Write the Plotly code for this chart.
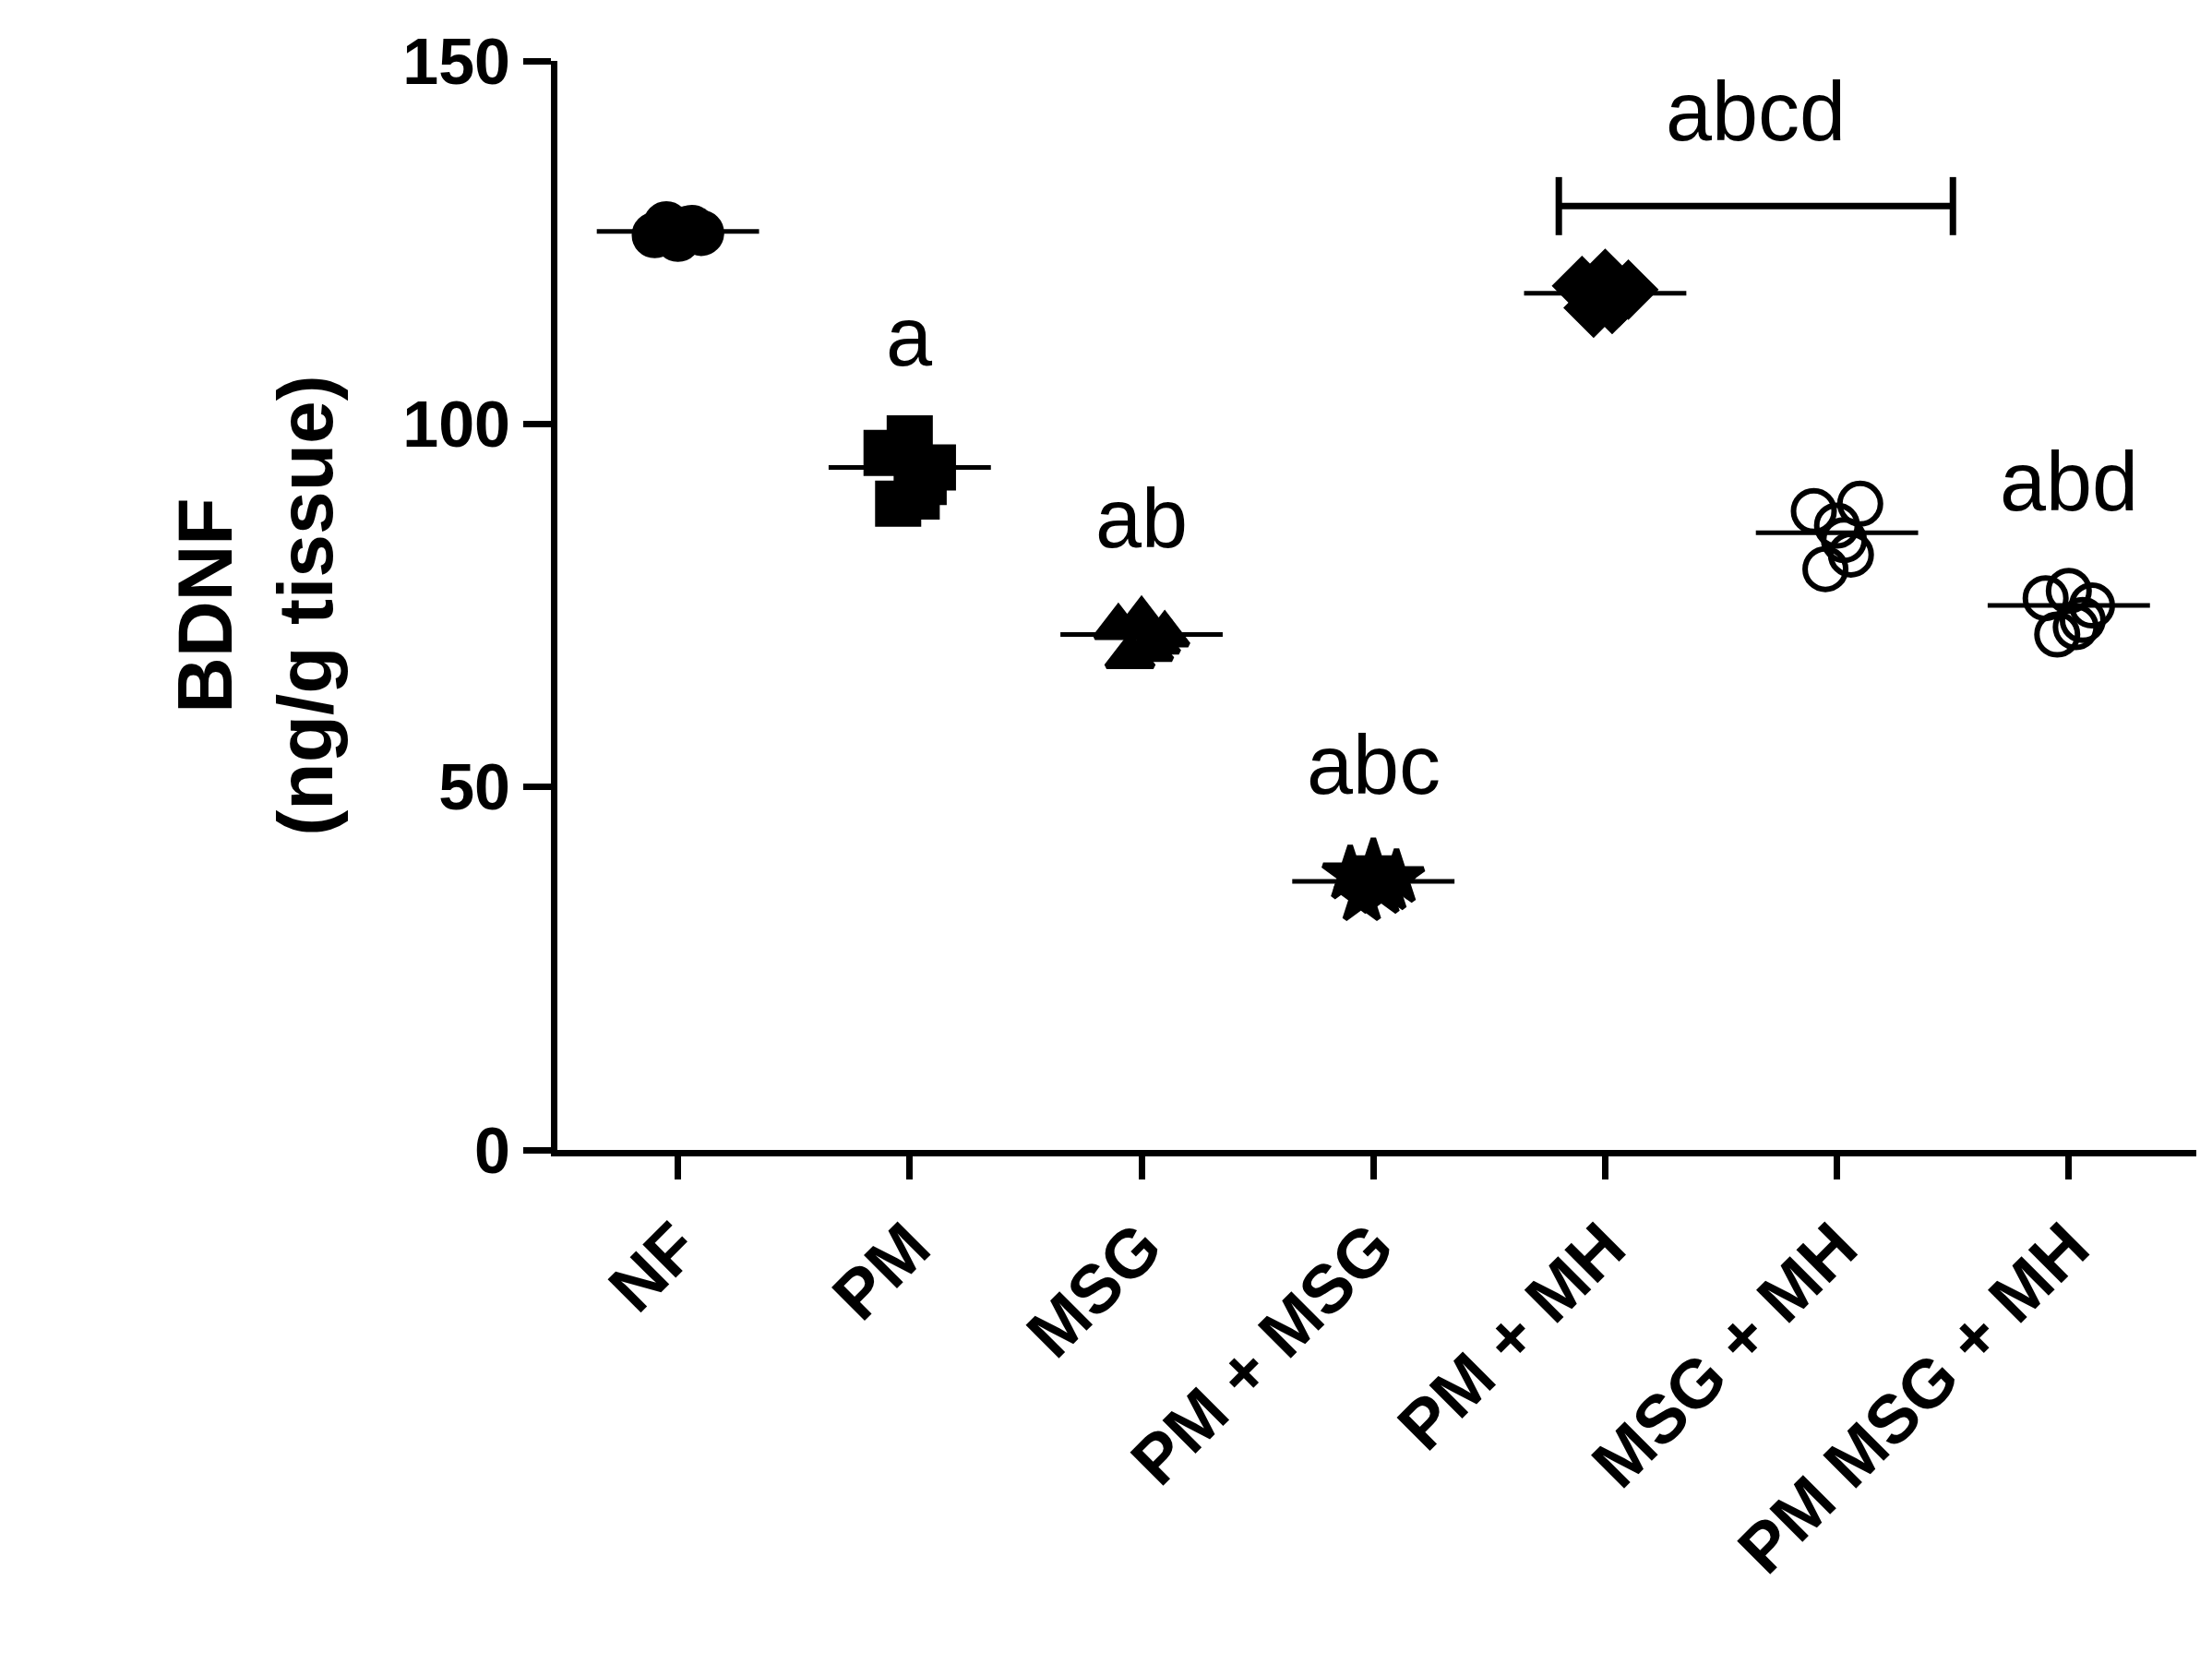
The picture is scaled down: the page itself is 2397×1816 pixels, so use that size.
import plotly.graph_objects as go

categories = ["NF", "PM", "MSG", "PM + MSG", "PM + MH", "MSG + MH", "PM MSG + MH"]
values = [
    [126.0, 127.5, 125.5, 127.0, 126.3, 126.8],
    [96, 89, 98, 92, 94, 90],
    [72, 68, 73, 70, 71, 69],
    [38, 35, 39, 36.5, 37.5, 36],
    [119, 116, 120, 117.5, 118.5, 116.5],
    [88, 80, 86, 82, 89, 84],
    [76, 71, 77, 73, 75, 72],
]
means = [126.5, 94, 71, 37, 118, 85, 75]
symbols = ["circle", "square", "triangle-up", "star", "diamond", "circle-open", "circle-open"]
letters = ["", "a", "ab", "abc", "", "", "abd"]
letter_y = [None, 112, 87, 53, None, None, 92]
offsets = [-0.1, -0.05, 0.0, 0.06, 0.1, 0.03]

fig = go.Figure()
for i, (c, v) in enumerate(zip(categories, values)):
    fig.add_trace(go.Scatter(
        x=[i + o for o in offsets], y=v, mode="markers",
        marker=dict(symbol=symbols[i], size=44, color="black",
                    line=dict(color="black", width=6)),
        showlegend=False))
    fig.add_shape(type="line", x0=i - 0.35, x1=i + 0.35, y0=means[i], y1=means[i],
                  line=dict(color="black", width=5))
    if letters[i]:
        fig.add_annotation(x=i, y=letter_y[i], text=letters[i], showarrow=False,
                           font=dict(size=90, color="black", family="Liberation Sans"))

# bracket
fig.add_shape(type="line", x0=3.8, x1=5.5, y0=130, y1=130, line=dict(color="black", width=7))
fig.add_shape(type="line", x0=3.8, x1=3.8, y0=126, y1=134, line=dict(color="black", width=7))
fig.add_shape(type="line", x0=5.5, x1=5.5, y0=126, y1=134, line=dict(color="black", width=7))
fig.add_annotation(x=4.65, y=143, text="abcd", showarrow=False,
                   font=dict(size=90, color="black", family="Liberation Sans"))

fig.update_layout(
    width=2397, height=1816, plot_bgcolor="white", paper_bgcolor="white",
    margin=dict(l=596, r=25, t=58, b=578),
    xaxis=dict(range=[-0.52, 6.55], tickvals=list(range(7)), ticktext=categories,
               tickangle=-45, showline=True, linecolor="black", linewidth=7,
               ticks="outside", ticklen=25, tickwidth=7, tickcolor="black",
               showgrid=False, zeroline=False,
               tickfont=dict(size=74, color="black", family="Liberation Sans", weight="bold")),
    yaxis=dict(range=[0, 150], tickvals=[0, 50, 100, 150], showline=True, linecolor="black",
               linewidth=7, ticks="outside", ticklen=30, tickwidth=7, tickcolor="black",
               showgrid=False, zeroline=False,
               tickfont=dict(size=70, color="black", family="Liberation Sans", weight="bold"),
               title=dict(text="BDNF<br>(ng/g tissue)", standoff=50,
                          font=dict(size=84, color="black", family="Liberation Sans", weight="bold"))),
)
fig.write_html("out.html")
